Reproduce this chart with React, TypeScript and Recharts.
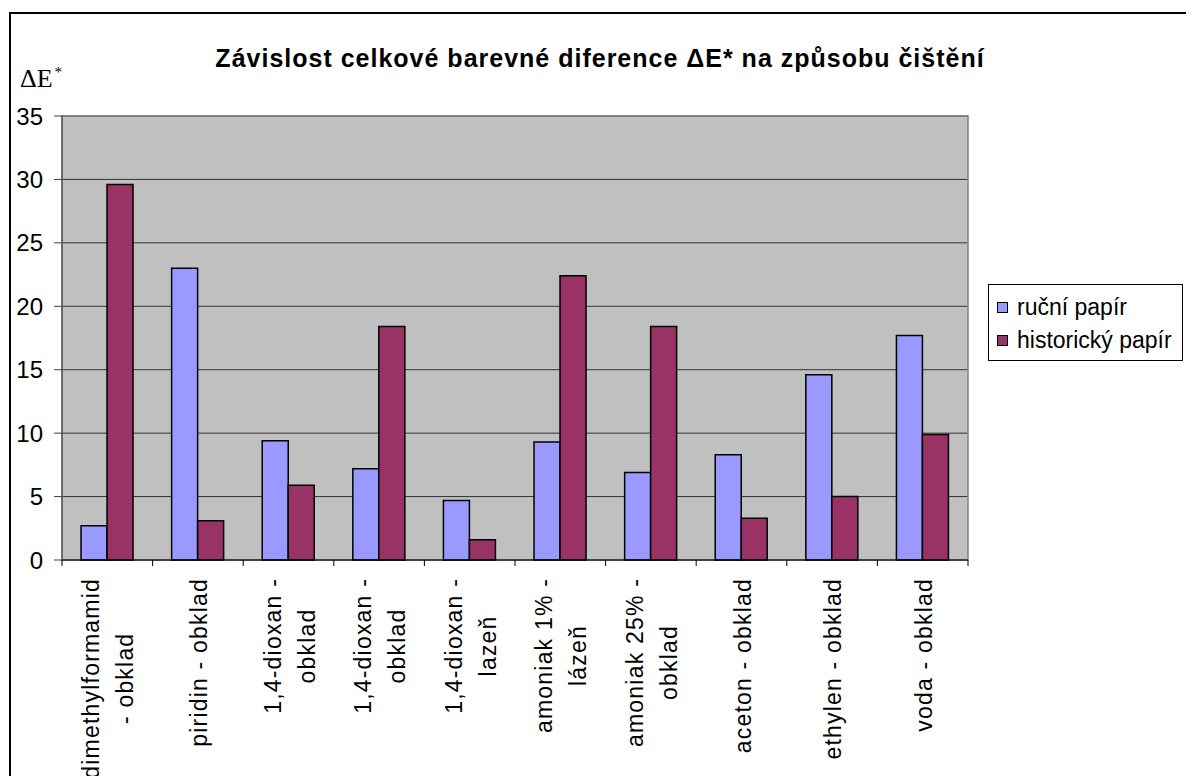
import { BarChart, Bar, XAxis, YAxis, CartesianGrid, Legend, ReferenceArea } from 'recharts';

const categories = [
  'dimethylformamid\n- obklad',
  'piridin - obklad',
  '1,4-dioxan -\nobklad',
  '1,4-dioxan -\nobklad',
  '1,4-dioxan -\nlazeň',
  'amoniak 1% -\nlázeň',
  'amoniak 25% -\nobklad',
  'aceton - obklad',
  'ethylen - obklad',
  'voda - obklad',
];
const rucniPapir = [2.7, 23.0, 9.4, 7.2, 4.7, 9.3, 6.9, 8.3, 14.6, 17.7];
const historickyPapir = [29.6, 3.1, 5.9, 18.4, 1.6, 22.4, 18.4, 3.3, 5.0, 9.9];
const seriesNames = ['ruční papír', 'historický papír'];
const yTicks = [0, 5, 10, 15, 20, 25, 30, 35];

const data = categories.map((name, i) => ({
  name,
  rucni: rucniPapir[i],
  historicky: historickyPapir[i],
}));

const SANS = '"Liberation Sans", Arial, sans-serif';
const LABEL_FONT = 23;
const LABEL_SPACING = 1.2;
const LINE_PITCH = 34;
const TICK_SIZE = 6;
const TICK_MARGIN = 12;

let measureCtx: CanvasRenderingContext2D | null = null;
function textWidth(s: string) {
  if (!measureCtx) measureCtx = document.createElement('canvas').getContext('2d');
  if (!measureCtx) return s.length * LABEL_FONT * 0.5;
  measureCtx.font = `${LABEL_FONT}px "Liberation Sans"`;
  return measureCtx.measureText(s).width + s.length * LABEL_SPACING;
}

// rotated two-line labels, tick marks sit between the categories like in Excel
function CategoryTick(props: any) {
  const { x, y, payload, index, width, visibleTicksCount } = props;
  const lines = String(payload.value).split('\n');
  const maxLen = Math.max(...lines.map(textWidth));
  const band = width && visibleTicksCount ? width / visibleTicksCount : 90.6;
  const axisY = y - TICK_SIZE - TICK_MARGIN;
  return (
    <g>
      <line x1={x - band / 2} x2={x - band / 2} y1={axisY} y2={axisY + TICK_SIZE} stroke="#000" />
      {index === visibleTicksCount - 1 && (
        <line x1={x + band / 2} x2={x + band / 2} y1={axisY} y2={axisY + TICK_SIZE} stroke="#000" />
      )}
      <g transform={`translate(${x}, ${y}) rotate(-90)`}>
        {lines.map((line, i) => (
          <text
            key={i}
            x={-maxLen / 2}
            y={9 + (i - (lines.length - 1) / 2) * LINE_PITCH}
            textAnchor="middle"
            fontSize={LABEL_FONT}
            fontFamily={SANS}
            letterSpacing={LABEL_SPACING}
            fill="#000"
          >
            {line}
          </text>
        ))}
      </g>
    </g>
  );
}

function LegendBox({ payload }: any) {
  const items = [...(payload || [])].sort(
    (a: any, b: any) => seriesNames.indexOf(a.value) - seriesNames.indexOf(b.value),
  );
  return (
    <div style={{ paddingLeft: 20 }}>
      <div
        style={{
          width: 195,
          height: 77,
          boxSizing: 'border-box',
          border: '1px solid #000',
          background: '#fff',
          padding: '6px 0 0 8px',
          fontFamily: SANS,
          fontSize: 23,
          color: '#000',
        }}
      >
        {items.map((entry: any) => (
          <div key={entry.value} style={{ display: 'flex', alignItems: 'center', height: 33 }}>
            <span
              style={{
                width: 11,
                height: 11,
                boxSizing: 'border-box',
                background: entry.color,
                border: '1px solid #000',
                marginRight: 9,
                flex: 'none',
              }}
            />
            <span style={{ whiteSpace: 'nowrap' }}>{entry.value}</span>
          </div>
        ))}
      </div>
    </div>
  );
}

export default function App() {
  return (
    <div
      style={{
        position: 'fixed',
        left: 0,
        top: 0,
        width: 1186,
        height: 776,
        background: '#fff',
        overflow: 'hidden',
      }}
    >
      <div
        style={{
          position: 'absolute',
          left: 9,
          top: 12,
          right: -10,
          bottom: -10,
          borderTop: '2px solid #000',
          borderLeft: '2px solid #000',
        }}
      />
      <div
        style={{
          position: 'absolute',
          left: 14,
          top: 46,
          width: 1172,
          textAlign: 'center',
          fontFamily: SANS,
          fontWeight: 'bold',
          fontSize: 25,
          letterSpacing: 1,
          lineHeight: '25px',
          whiteSpace: 'nowrap',
        }}
      >
        Závislost celkové barevné diference ΔE* na způsobu čištění
      </div>
      <div
        style={{
          position: 'absolute',
          left: 20,
          top: 66,
          fontFamily: '"Liberation Serif", "Times New Roman", serif',
          fontSize: 26,
          lineHeight: '26px',
          whiteSpace: 'nowrap',
        }}
      >
        ΔE<span style={{ fontSize: 15, position: 'relative', top: -10, marginLeft: 2 }}>*</span>
      </div>
      <div style={{ position: 'absolute', left: 0, top: 0 }}>
        <BarChart
          width={1186}
          height={776}
          data={data}
          margin={{ top: 116, right: 3, bottom: 0, left: 0 }}
          barCategoryGap="21%"
          barGap={0}
        >
          <CartesianGrid vertical={false} stroke="#333" fill="#C0C0C0" fillOpacity={1} />
          <ReferenceArea y1={0} y2={35} fill="none" stroke="#808080" strokeWidth={1.5} />
          <XAxis
            dataKey="name"
            interval={0}
            height={216}
            tickSize={TICK_SIZE}
            tickMargin={TICK_MARGIN}
            tickLine={false}
            axisLine={{ stroke: '#000' }}
            tick={<CategoryTick />}
          />
          <YAxis
            domain={[0, 35]}
            ticks={yTicks}
            interval={0}
            width={62}
            tickSize={8}
            tickMargin={11}
            axisLine={{ stroke: '#404040' }}
            tickLine={{ stroke: '#404040' }}
            tick={{ fontSize: 24, fill: '#000', fontFamily: SANS }}
          />
          <Legend
            layout="vertical"
            align="right"
            verticalAlign="top"
            wrapperStyle={{ top: 284 }}
            content={<LegendBox />}
          />
          <Bar
            dataKey="rucni"
            name="ruční papír"
            fill="#9999FF"
            stroke="#000"
            strokeWidth={1.5}
            isAnimationActive={false}
          />
          <Bar
            dataKey="historicky"
            name="historický papír"
            fill="#993366"
            stroke="#000"
            strokeWidth={1.5}
            isAnimationActive={false}
          />
        </BarChart>
      </div>
    </div>
  );
}
